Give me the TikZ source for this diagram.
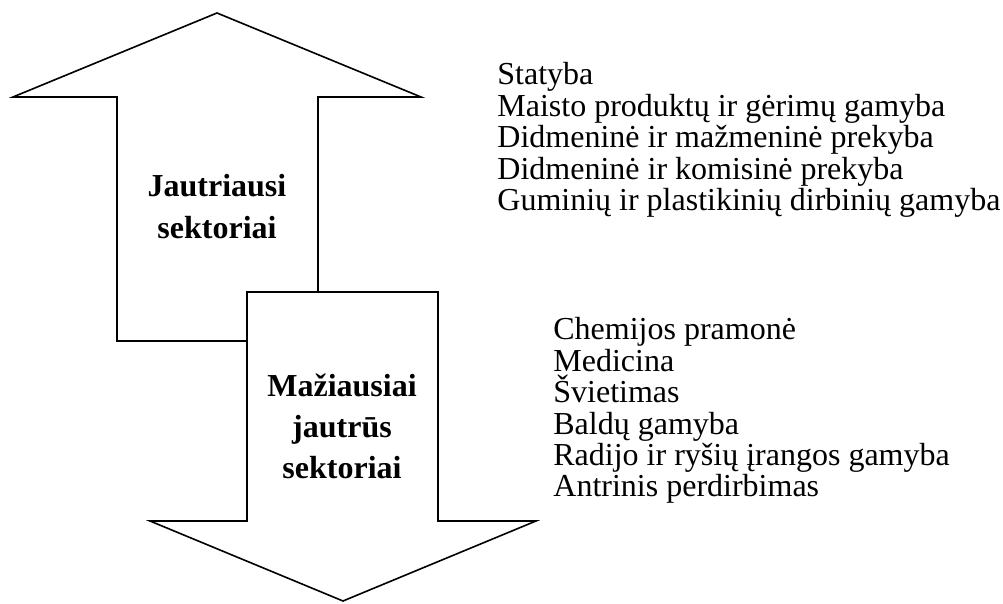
\documentclass[tikz,border=0pt]{standalone}
\usepackage{fontspec}
\setmainfont{Liberation Serif}
\begin{document}
\begin{tikzpicture}[x=0.5pt,y=-0.5pt,
  arrowshape/.style={draw=black,fill=white,line width=0.8pt,line join=miter},
  listitem/.style={anchor=base west,inner sep=0pt,font=\fontsize{16}{18}\selectfont},
  boldlabel/.style={anchor=base,inner sep=0pt,font=\fontsize{16}{18}\selectfont\bfseries}]
\useasboundingbox (0,0) rectangle (1003,604);
% upward arrow
\draw[arrowshape] (217,13) -- (421,97) -- (318,97) -- (318,341) -- (117,341) -- (117,97) -- (13,97) -- cycle;
% downward arrow, drawn over the upward one
\draw[arrowshape] (247,292) -- (438,292) -- (438,521) -- (536,521) -- (343,601) -- (150,521) -- (247,521) -- cycle;
% labels inside the arrows
\node[boldlabel] (j1) at (217,197) {Jautriausi};
\node[boldlabel] (j2) at (217,239) {sektoriai};
\node[boldlabel] (m1) at (342,397) {Mažiausiai};
\node[boldlabel] (m2) at (342,438) {jautrūs};
\node[boldlabel] (m3) at (342,479) {sektoriai};
% most sensitive sectors
\foreach \t [count=\i from 0] in {Statyba,
  Maisto produktų ir gėrimų gamyba,
  Didmeninė ir mažmeninė prekyba,
  Didmeninė ir komisinė prekyba,
  Guminių ir plastikinių dirbinių gamyba}
  \node[listitem] (u\i) at (497,85+31.5*\i) {\t};
% least sensitive sectors
\foreach \t [count=\i from 0] in {Chemijos pramonė,
  Medicina,
  Švietimas,
  Baldų gamyba,
  Radijo ir ryšių įrangos gamyba,
  Antrinis perdirbimas}
  \node[listitem] (d\i) at (553,340+31.4*\i) {\t};
\end{tikzpicture}
\end{document}
